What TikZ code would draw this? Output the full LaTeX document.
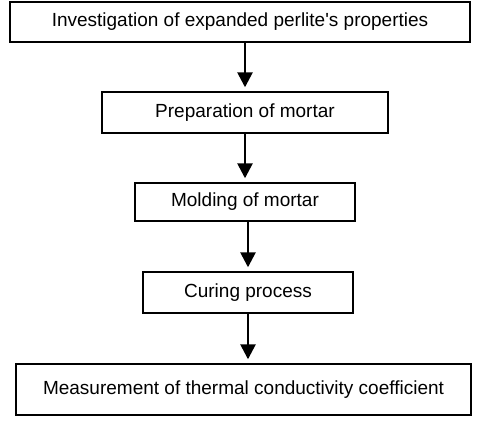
\documentclass[tikz,border=0pt]{standalone}
\usepackage{fontspec}
\setmainfont{Liberation Sans}
\usetikzlibrary{arrows.meta}

\begin{document}
\begin{tikzpicture}[x=1pt,y=1pt,
    stepbox/.style={draw, line width=1.4pt, inner sep=0pt, font=\fontsize{19}{22}\selectfont},
    flow/.style={line width=2.6pt, -{Triangle[width=15pt,length=15pt]}, shorten >=4pt}]
            \useasboundingbox (0,0) rectangle (484,-422);
            \node[stepbox, minimum width=460, minimum height=40] (perlite) at (240,-22) {Investigation of expanded perlite\textquotesingle s properties};
            \node[stepbox, minimum width=286, minimum height=41] (prep) at (245,-112.5) {Preparation of mortar};
            \node[stepbox, minimum width=220, minimum height=38] (mold) at (245,-202) {Molding of mortar};
            \node[stepbox, minimum width=210, minimum height=41] (cure) at (248,-292.5) {Curing process};
            \node[stepbox, minimum width=455, minimum height=51] (measure) at (243.5,-389.5) {Measurement of thermal conductivity coefficient};
            \draw[flow] (perlite.south -| prep.north) -- (prep.north);
            \draw[flow] (prep.south -| mold.north) -- (mold.north);
            \draw[flow] (mold.south -| cure.north) -- (cure.north);
            \draw[flow] (cure.south) -- (cure.south |- measure.north);
        \end{tikzpicture}
\end{document}
